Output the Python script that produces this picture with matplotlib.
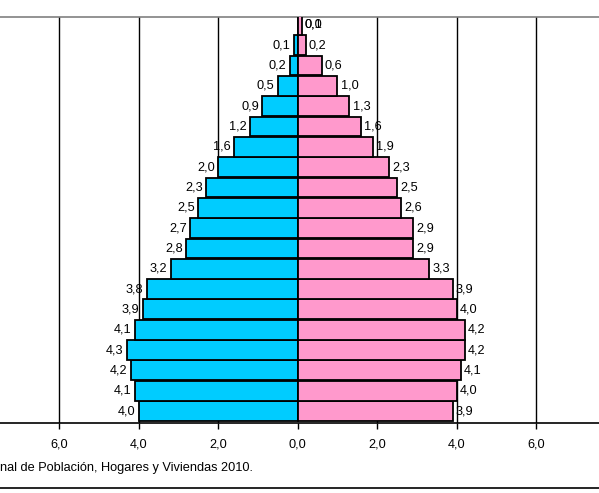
import numpy as np
import matplotlib.pyplot as plt
from matplotlib.lines import Line2D

plt.rcParams['font.family'] = ['Liberation Sans', 'DejaVu Sans']

# age groups from youngest (bottom) to oldest (top), percent of population
varones = [4.0, 4.1, 4.2, 4.3, 4.1, 3.9, 3.8, 3.2, 2.8, 2.7,
           2.5, 2.3, 2.0, 1.6, 1.2, 0.9, 0.5, 0.2, 0.1, 0.0]
mujeres = [3.9, 4.0, 4.1, 4.2, 4.2, 4.0, 3.9, 3.3, 2.9, 2.9,
           2.6, 2.5, 2.3, 1.9, 1.6, 1.3, 1.0, 0.6, 0.2, 0.1]
xticks = [-6, -4, -2, 0, 2, 4, 6]
fuente = 'nal de Población, Hogares y Viviendas 2010.'

W, H = 599, 493
FS = 9.2
fig = plt.figure(figsize=(W / 100, H / 100), dpi=100)
ax = fig.add_axes([0, 1 - 423 / H, 1, (423 - 17) / H])

y = np.arange(len(varones))
ax.barh(y, -np.array(varones), height=0.97, color='#00CCFF',
        edgecolor='black', linewidth=1.3, zorder=3)
ax.barh(y, mujeres, height=0.97, color='#FF99CC',
        edgecolor='black', linewidth=1.3, zorder=3)

def fmt(v):
    return f'{v:.1f}'.replace('.', ',')

for i, (m, f) in enumerate(zip(varones, mujeres)):
    if m > 0:
        ax.text(-m - 0.08, i, fmt(m), ha='right', va='center', fontsize=FS)
    else:
        ax.text(f + 0.08, i, fmt(m), ha='left', va='center', fontsize=FS)
    ax.text(f + 0.08, i, fmt(f), ha='left', va='center', fontsize=FS)

for t in xticks:
    if t != 0:
        ax.axvline(t, color='black', linewidth=1.0, zorder=1)

ax.set_xlim(-7.49, 7.58)
ax.set_ylim(-0.59, 19.38)
ax.set_xticks(xticks)
ax.set_xticklabels([fmt(abs(t)) for t in xticks], fontsize=FS)
ax.set_yticks([])
ax.tick_params(axis='x', length=4, width=1, pad=7, direction='out')

for s in ['left', 'right']:
    ax.spines[s].set_visible(False)
ax.spines['top'].set_color('#808080')
ax.spines['top'].set_linewidth(1.2)
ax.spines['bottom'].set_color('black')
ax.spines['bottom'].set_linewidth(1.2)

fig.text(0, 1 - 468 / H, fuente, ha='left', va='center', fontsize=FS)
fig.add_artist(Line2D([0, 1], [1 - 488 / H, 1 - 488 / H], color='black',
                      linewidth=1.2, transform=fig.transFigure))

fig.savefig('out.png', dpi=100)
